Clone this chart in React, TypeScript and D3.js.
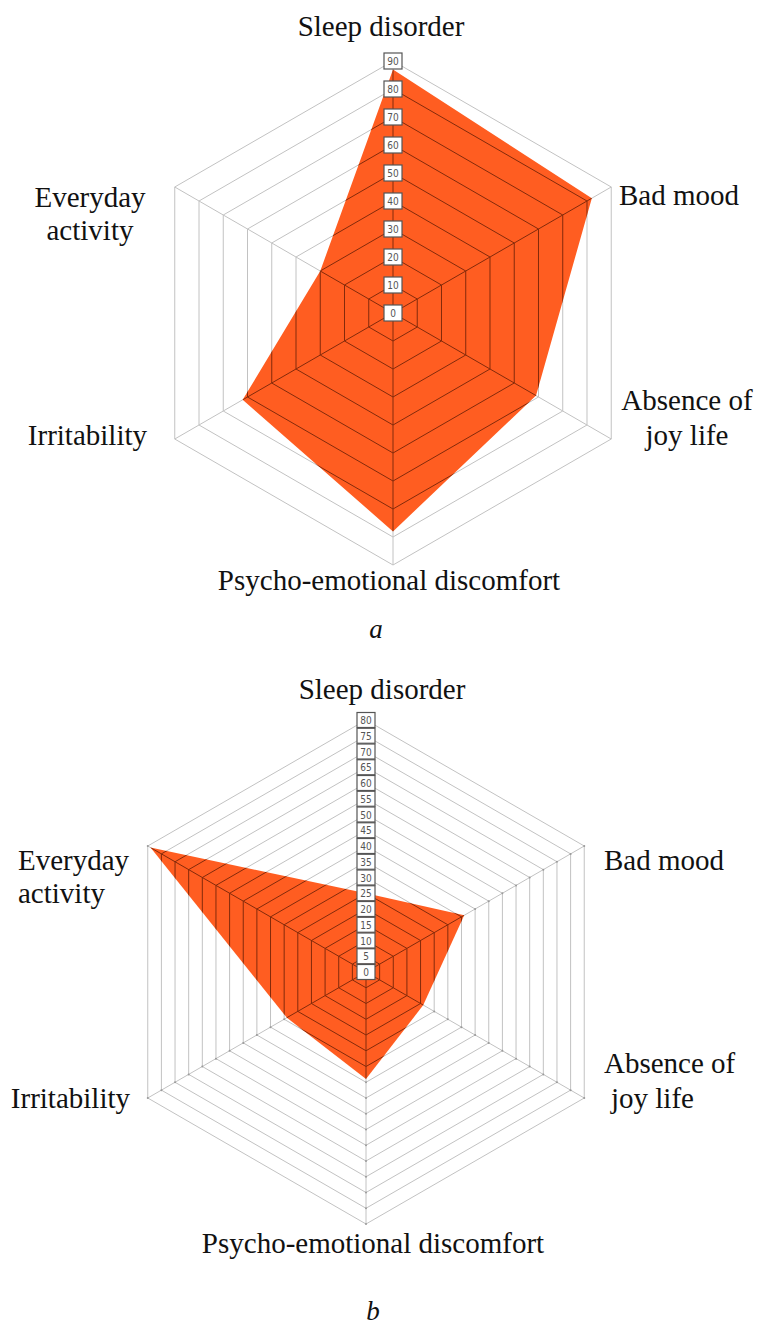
import React, { useEffect, useRef } from "react";
import * as d3 from "d3";

// axis names, split where the picture wraps them
const axes = [
  ["Sleep disorder"],
  ["Bad mood"],
  ["Absence of", "joy life"],
  ["Psycho-emotional discomfort"],
  ["Irritability"],
  ["Everyday", "activity"],
];

// chart a
const valuesA = [87, 82, 59, 78, 62, 30];
const ticksA = [0, 10, 20, 30, 40, 50, 60, 70, 80, 90];

// chart b
const valuesB = [25, 36, 21, 34, 29, 79];
const ticksB = [0, 5, 10, 15, 20, 25, 30, 35, 40, 45, 50, 55, 60, 65, 70, 75, 80];

const SERIF = '"Liberation Serif", "Times New Roman", serif';

const layoutA = {
  id: "clipA",
  cx: 393,
  cy: 313,
  radius: 252,
  boxH: 16,
  dots: false,
  caption: { text: "a", x: 376, y: 638 },
  labels: [
    { x: 381, y: 36, anchor: "middle", dy: 0 },
    { x: 619, y: 205, anchor: "start", dy: 0 },
    { x: 687, y: 410, anchor: "middle", dy: 35 },
    { x: 389, y: 590, anchor: "middle", dy: 0 },
    { x: 147, y: 445, anchor: "end", dy: 0 },
    { x: 90, y: 207, anchor: "middle", dy: 33 },
  ],
};

const layoutB = {
  id: "clipB",
  cx: 366,
  cy: 972,
  radius: 252,
  boxH: 15,
  dots: true,
  caption: { text: "b", x: 373, y: 1320 },
  labels: [
    { x: 382, y: 699, anchor: "middle", dy: 0 },
    { x: 604, y: 870, anchor: "start", dy: 0 },
    { x: 604, y: 1073, anchor: "start", dy: 35, indent: 7 },
    { x: 373, y: 1253, anchor: "middle", dy: 0 },
    { x: 130, y: 1108, anchor: "end", dy: 0 },
    { x: 18, y: 870, anchor: "start", dy: 33 },
  ],
};

const drawRadar = (svg, values, ticks, layout) => {
  const n = axes.length;
  const max = d3.max(ticks);
  const r = d3.scaleLinear().domain([0, max]).range([0, layout.radius]);
  const angle = (i) => (i * 2 * Math.PI) / n;

  const shape = d3
    .lineRadial()
    .angle((d, i) => angle(i))
    .radius((d) => r(d))
    .curve(d3.curveLinearClosed);

  const g = svg.append("g").attr("transform", `translate(${layout.cx},${layout.cy})`);

  g.append("clipPath").attr("id", layout.id).append("path").attr("d", shape(values));

  const grid = (parent, color) => {
    ticks.slice(1).forEach((t) => {
      parent
        .append("path")
        .attr("d", shape(axes.map(() => t)))
        .attr("fill", "none")
        .attr("stroke", color)
        .attr("stroke-width", 1);
    });
    axes.forEach((a, i) => {
      const [x, y] = d3.pointRadial(angle(i), r(max));
      parent
        .append("line")
        .attr("x1", 0)
        .attr("y1", 0)
        .attr("x2", x)
        .attr("y2", y)
        .attr("stroke", color)
        .attr("stroke-width", 1);
    });
  };

  grid(g, "#c2c2c2");

  if (layout.dots) {
    axes.forEach((a, i) => {
      ticks.slice(1).forEach((t) => {
        const [x, y] = d3.pointRadial(angle(i), r(t));
        g.append("circle").attr("cx", x).attr("cy", y).attr("r", 1).attr("fill", "#9a9a9a");
      });
    });
  }

  g.append("path").attr("d", shape(values)).attr("fill", "#ff5e22");

  // grid seen through the fill is darker
  const inner = g.append("g").attr("clip-path", `url(#${layout.id})`).attr("opacity", 0.75);
  grid(inner, "#5a1a04");

  // value boxes along the top axis
  const boxes = g.append("g");
  ticks.forEach((t) => {
    const y = -r(t);
    boxes
      .append("rect")
      .attr("x", -9)
      .attr("y", y - layout.boxH / 2)
      .attr("width", 18)
      .attr("height", layout.boxH)
      .attr("fill", "#fff")
      .attr("stroke", "#555")
      .attr("stroke-width", 1.2);
    boxes
      .append("text")
      .attr("x", 0)
      .attr("y", y + 4)
      .attr("text-anchor", "middle")
      .attr("font-family", '"DejaVu Sans Condensed", "DejaVu Sans", sans-serif')
      .attr("font-size", 10)
      .attr("fill", "#555")
      .text(t);
  });

  // axis names
  axes.forEach((lines, i) => {
    const lab = layout.labels[i];
    lines.forEach((line, k) => {
      svg
        .append("text")
        .attr("x", lab.x + (k > 0 && lab.indent ? lab.indent : 0))
        .attr("y", lab.y + k * lab.dy)
        .attr("text-anchor", lab.anchor)
        .attr("font-family", SERIF)
        .attr("font-size", 29)
        .attr("fill", "#111")
        .text(line);
    });
  });

  svg
    .append("text")
    .attr("x", layout.caption.x)
    .attr("y", layout.caption.y)
    .attr("text-anchor", "middle")
    .attr("font-family", SERIF)
    .attr("font-size", 27)
    .attr("font-style", "italic")
    .attr("fill", "#111")
    .text(layout.caption.text);
};

const App = () => {
  const svgRef = useRef(null);

  useEffect(() => {
    const width = 761;
    const height = 1333;
    const svg = d3
      .select(svgRef.current)
      .attr("width", width)
      .attr("height", height)
      .attr("viewBox", `0 0 ${width} ${height}`);

    svg.selectAll("*").remove();
    svg.append("rect").attr("width", width).attr("height", height).attr("fill", "#fff");

    drawRadar(svg, valuesA, ticksA, layoutA);
    drawRadar(svg, valuesB, ticksB, layoutB);
  }, []);

  return (
    <div style={{ position: "absolute", left: 0, top: 0 }}>
      <svg ref={svgRef} style={{ display: "block" }}></svg>
    </div>
  );
};

export default App;
